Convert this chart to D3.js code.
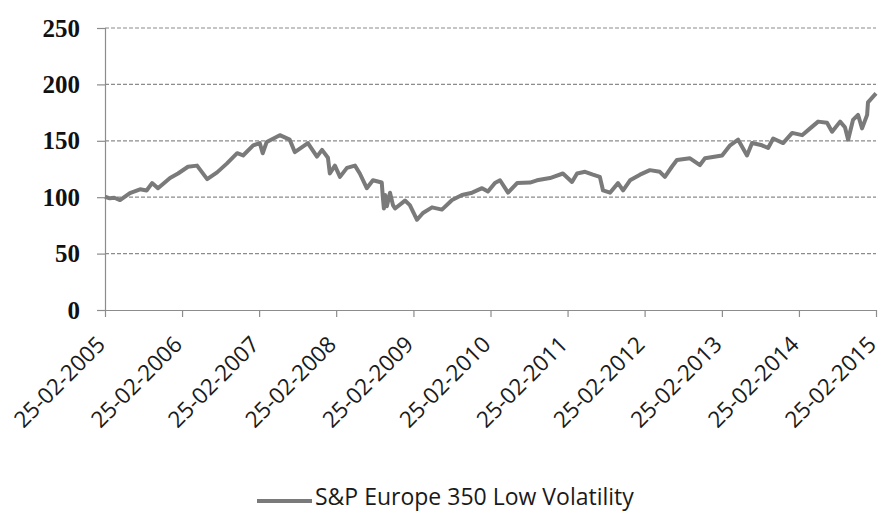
<!DOCTYPE html>
<html>
<head>
<meta charset="utf-8">
<script src="https://cdn.jsdelivr.net/npm/d3@7"></script>
<style>
  html, body { margin: 0; padding: 0; background: #ffffff; }
  svg { display: block; }
</style>
</head>
<body>
<svg id="chart" width="882" height="512"></svg>
<script>
// ---- data ----
const seriesName = "S&P Europe 350 Low Volatility";
const yTicks = [0, 50, 100, 150, 200, 250];
const xTickLabels = ["25-02-2005","25-02-2006","25-02-2007","25-02-2008","25-02-2009",
  "25-02-2010","25-02-2011","25-02-2012","25-02-2013","25-02-2014","25-02-2015"];
const dates = [
  "2005-02-25","2005-03-20","2005-04-10","2005-05-07","2005-06-23","2005-08-10","2005-09-10",
  "2005-10-06","2005-11-03","2005-12-30","2006-02-06","2006-03-25","2006-05-07","2006-06-24",
  "2006-08-10","2006-09-26","2006-11-13","2006-12-11","2007-01-28","2007-02-28","2007-03-14",
  "2007-04-02","2007-06-03","2007-07-20","2007-08-13","2007-10-14","2007-11-26","2007-12-20",
  "2008-01-17","2008-01-26","2008-02-19","2008-03-14","2008-04-16","2008-05-24","2008-06-16",
  "2008-07-19","2008-08-17","2008-09-28","2008-10-03","2008-10-08","2008-10-14","2008-10-22",
  "2008-11-06","2008-11-20","2008-11-30","2009-01-16","2009-02-08","2009-03-14","2009-04-11",
  "2009-05-24","2009-07-10","2009-08-27","2009-10-13","2009-11-30","2010-01-16","2010-02-13",
  "2010-03-18","2010-04-11","2010-05-19","2010-07-01","2010-08-31","2010-10-03","2010-12-04",
  "2011-02-03","2011-03-18","2011-04-11","2011-05-19","2011-06-25","2011-07-28","2011-08-12",
  "2011-09-14","2011-10-22","2011-11-15","2011-12-18","2012-02-03","2012-03-21","2012-05-07",
  "2012-05-31","2012-07-03","2012-07-27","2012-09-27","2012-11-13","2012-12-07","2013-02-26",
  "2013-04-05","2013-05-13","2013-06-24","2013-07-18","2013-09-03","2013-10-02","2013-10-26",
  "2013-12-12","2014-01-24","2014-03-12","2014-04-19","2014-05-27","2014-07-08","2014-08-01",
  "2014-09-08","2014-10-01","2014-10-16","2014-11-08","2014-12-02","2014-12-21","2015-01-14",
  "2015-01-18","2015-02-06","2015-02-25"
];
const values = [
  100.4, 99, 99.5, 97.5, 103.7, 107, 106,
  112.5, 108, 117, 121, 127, 128, 116,
  122, 130, 139, 137, 146, 148, 139,
  149, 155, 151, 140, 148, 136, 142,
  135, 121, 128, 118, 126, 128, 121,
  108, 115, 113, 100, 90, 102, 92,
  104, 93, 90, 97, 93, 80, 86,
  91, 89, 97.5, 102, 104, 108, 105,
  112.6, 115, 104, 112.5, 113, 115, 117,
  121, 113.5, 121, 122.5, 120, 118, 106,
  104, 112.5, 106, 115, 120, 124, 122.5,
  118, 127, 133, 134.5, 128.5, 134.5, 137,
  146, 151, 137, 148, 146, 143.6, 152,
  148, 157, 155, 161, 167, 166, 158,
  167, 162, 151, 168.5, 173, 161, 173,
  184, 188, 192
];

// ---- layout ----
const svg = d3.select("#chart");
const parse = d3.timeParse("%Y-%m-%d");
const parseTick = d3.timeParse("%d-%m-%Y");
const mLeft = 105, mRight = 876, mTop = 28, mBottom = 310;

const x = d3.scaleTime()
  .domain([parseTick(xTickLabels[0]), parseTick(xTickLabels[xTickLabels.length - 1])])
  .range([mLeft, mRight]);
const y = d3.scaleLinear().domain([0, 250]).range([mBottom, mTop]);

const data = dates.map((d, i) => ({ date: parse(d), value: values[i] }));

// gridlines (dashed)
svg.append("g")
  .selectAll("line")
  .data(yTicks.filter(v => v > 0))
  .join("line")
  .attr("x1", mLeft).attr("x2", mRight)
  .attr("y1", d => y(d)).attr("y2", d => y(d))
  .attr("stroke", "#8c8c8c")
  .attr("stroke-width", 1.2)
  .attr("stroke-dasharray", "4,2");

// y axis
const yAxis = d3.axisLeft(y).tickValues(yTicks).tickSize(8).tickPadding(17).tickFormat(d3.format("d"));
const gy = svg.append("g").attr("transform", `translate(${mLeft},0)`).call(yAxis);
gy.select(".domain").attr("stroke", "#8c8c8c").attr("stroke-width", 1.2);
gy.selectAll(".tick line").attr("stroke", "#8c8c8c").attr("stroke-width", 1.2);
gy.selectAll(".tick text")
  .attr("font-family", "'Liberation Serif', serif")
  .attr("font-weight", "bold")
  .attr("font-size", 25)
  .attr("fill", "#111");

// x axis
const xTickDates = xTickLabels.map(parseTick);
const xAxis = d3.axisBottom(x).tickValues(xTickDates).tickSize(7).tickSizeOuter(0)
  .tickFormat((d, i) => xTickLabels[i]);
const gx = svg.append("g").attr("transform", `translate(0,${mBottom})`).call(xAxis);
gx.select(".domain").attr("stroke", "#8c8c8c").attr("stroke-width", 1.2);
gx.selectAll(".tick line").attr("stroke", "#8c8c8c").attr("stroke-width", 1.2);
gx.selectAll(".tick text")
  .attr("font-family", "'Open Sans', sans-serif")
  .attr("font-size", 22.5)
  .attr("fill", "#1a1a1a")
  .attr("text-anchor", "end")
  .attr("y", 0).attr("dy", 0)
  .attr("transform", "translate(1,36) rotate(-45)");

// line
const line = d3.line().x(d => x(d.date)).y(d => y(d.value));
svg.append("path")
  .datum(data)
  .attr("d", line)
  .attr("fill", "none")
  .attr("stroke", "#7a7a7a")
  .attr("stroke-width", 4)
  .attr("stroke-linejoin", "round");

// legend
const lg = svg.append("g");
lg.append("line")
  .attr("x1", 257).attr("x2", 312).attr("y1", 501).attr("y2", 501)
  .attr("stroke", "#7a7a7a").attr("stroke-width", 4);
lg.append("text")
  .attr("x", 315).attr("y", 505)
  .attr("font-family", "'Open Sans', sans-serif")
  .attr("font-size", 23)
  .attr("fill", "#1a1a1a")
  .text(seriesName);
</script>
</body>
</html>
